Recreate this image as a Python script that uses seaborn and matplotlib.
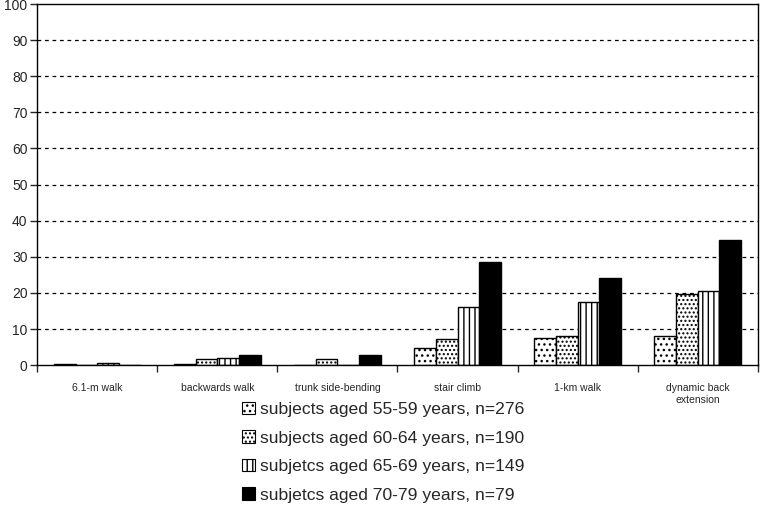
import numpy as np
import pandas as pd
import matplotlib
matplotlib.use("Agg")
import matplotlib.pyplot as plt
import seaborn as sns
from matplotlib.patches import Patch

# Data (percent)
tests = ["6.1-m walk", "backwards walk", "trunk side-bending", "stair climb",
         "1-km walk", "dynamic back\nextension"]
groups = ["subjects aged 55-59 years, n=276", "subjects aged 60-64 years, n=190",
          "subjetcs aged 65-69 years, n=149", "subjetcs aged 70-79 years, n=79"]
age_55_59 = [0.3, 0.3, 0.0, 4.7, 7.4, 8.1]
age_60_64 = [0.0, 1.6, 1.6, 7.1, 8.1, 19.8]
age_65_69 = [0.7, 2.0, 0.0, 16.1, 17.5, 20.5]
age_70_79 = [0.0, 2.9, 2.9, 28.5, 24.0, 34.7]

rows = []
for g, vals in zip(groups, [age_55_59, age_60_64, age_65_69, age_70_79]):
    for t, v in zip(tests, vals):
        rows.append({"test": t, "group": g, "value": v})
df = pd.DataFrame(rows)

sns.set_style("white")
plt.rcParams["font.family"] = ["Liberation Sans", "DejaVu Sans"]
plt.rcParams["hatch.linewidth"] = 1.0

fig = plt.figure(figsize=(7.6, 5.05), dpi=100)
ax = fig.add_axes([0.049, 0.277, 0.948, 0.715])

faces = ["white", "white", "white", "black"]
hatches = ["...", "....", "|||", ""]
sns.barplot(data=df, x="test", y="value", hue="group", order=tests,
            hue_order=groups, width=0.72, gap=0, ax=ax, legend=False,
            edgecolor="black", linewidth=1.0)
for cont, fc, h in zip(ax.containers, faces, hatches):
    for bar in cont:
        bar.set_facecolor(fc)
        bar.set_hatch(h)

ax.set_ylim(0, 100)
ax.set_xlim(-0.5, len(tests) - 0.5)
ax.set_yticks(np.arange(0, 101, 10))
ax.tick_params(axis="y", labelsize=10, length=5, width=1, direction="out", left=True, pad=2)
ax.set_xticks(np.arange(len(tests)))
ax.set_xticklabels(tests, fontsize=7.5)
ax.tick_params(axis="x", which="major", length=0, pad=13)
ax.set_xticks(np.arange(len(tests) + 1) - 0.5, minor=True)
ax.tick_params(axis="x", which="minor", length=5, width=1, direction="out", bottom=True)
for y in range(10, 100, 10):
    ax.axhline(y, color="black", linestyle=(0, (3, 3)), linewidth=0.9, zorder=0)
for s in ax.spines.values():
    s.set_color("black")
    s.set_linewidth(1.0)
ax.set_xlabel("")
ax.set_ylabel("")

handles = [Patch(facecolor=fc, edgecolor="black", hatch=h, linewidth=0.8)
           for fc, h in zip(faces, hatches)]
fig.legend(handles, groups, loc="upper left", bbox_to_anchor=(0.307, 0.222),
           frameon=False, fontsize=12.6, handlelength=0.75, handleheight=0.75,
           handletextpad=0.3, labelspacing=0.74, borderpad=0)

fig.savefig("out.png", dpi=100)
